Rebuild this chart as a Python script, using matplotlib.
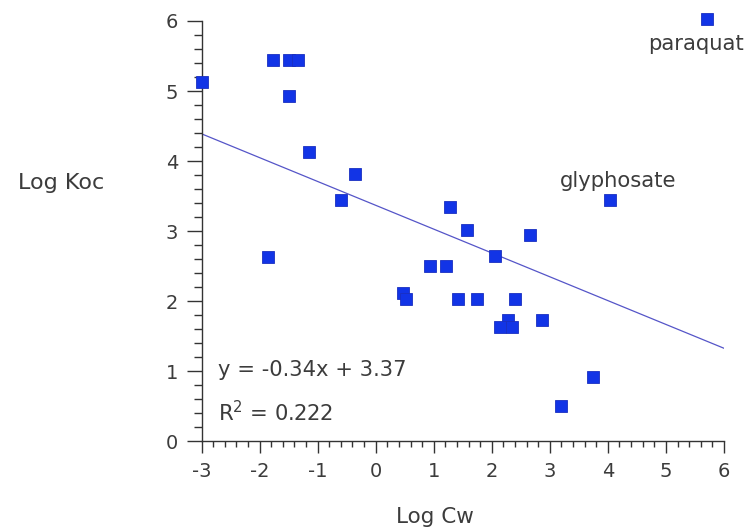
import numpy as np
import matplotlib
matplotlib.use("Agg")
import matplotlib.pyplot as plt
from matplotlib.ticker import MultipleLocator

plt.rcParams['font.family'] = ['DejaVu Sans']
plt.rcParams['mathtext.fontset'] = 'dejavusans'
plt.rcParams['axes.unicode_minus'] = False

# data
log_cw = [-3.00, -1.77, -1.49, -1.34, -1.49, -1.14, -0.35, -0.60, 1.28, 1.57,
          -1.86, 2.66, 2.05, 0.93, 1.22, 0.47, 0.53, 1.41, 1.75, 2.40,
          2.28, 2.14, 2.34, 2.87, 3.74, 3.20, 4.03, 5.71]
log_koc = [5.13, 5.44, 5.44, 5.44, 4.93, 4.13, 3.82, 3.45, 3.34, 3.02,
           2.63, 2.95, 2.64, 2.50, 2.50, 2.12, 2.03, 2.03, 2.03, 2.03,
           1.74, 1.64, 1.64, 1.73, 0.92, 0.51, 3.44, 6.03]
slope = -0.34
intercept = 3.37
r2 = 0.222

txt = '#3c3c3c'
axc = '#333333'

fig = plt.figure(figsize=(7.5, 5.31), dpi=100)
ax = fig.add_axes([0.2687, 0.1686, 0.6966, 0.7919])

xl = np.array([-3, 6])
ax.plot(xl, slope * xl + intercept, color='#5555c8', lw=0.9, zorder=2)
ax.plot(log_cw, log_koc, 's', ms=9.2, color='#1234e6', mec='#1a2fc0', mew=0.6,
        clip_on=False, zorder=3)

ax.set_xlim(-3, 6)
ax.set_ylim(0, 6)
ax.xaxis.set_major_locator(MultipleLocator(1))
ax.xaxis.set_minor_locator(MultipleLocator(0.2))
ax.yaxis.set_major_locator(MultipleLocator(1))
ax.yaxis.set_minor_locator(MultipleLocator(0.2))

ax.spines['right'].set_visible(False)
ax.spines['top'].set_visible(False)
for s in ['left', 'bottom']:
    ax.spines[s].set_color(axc)
    ax.spines[s].set_linewidth(1.0)

ax.tick_params(axis='y', which='major', length=10.8, width=1, color=axc,
               labelsize=14, labelcolor=txt, pad=6)
ax.tick_params(axis='y', which='minor', length=5.8, width=1, color=axc)
ax.tick_params(axis='x', which='major', length=8.6, width=1, color=axc,
               labelsize=14, labelcolor=txt, pad=6)
ax.tick_params(axis='x', which='minor', length=4.3, width=1, color=axc)

ax.text(-2.72, 1.02, 'y = -0.34x + 3.37', fontsize=15.2, color=txt, va='center')
ax.text(-2.72, 0.41, 'R$^{2}$ = %.3f' % r2, fontsize=15.2, color=txt, va='center')
ax.text(4.18, 3.72, 'glyphosate', fontsize=15.2, color=txt, ha='center', va='center')
ax.text(4.69, 5.67, 'paraquat', fontsize=15.2, color=txt, ha='left', va='center',
        clip_on=False)

fig.text(0.081, 0.655, 'Log Koc', fontsize=16, color=txt, ha='center', va='center')
fig.text(0.58, 0.026, 'Log Cw', fontsize=15.5, color=txt, ha='center', va='center')

fig.savefig('out.png', dpi=100)
